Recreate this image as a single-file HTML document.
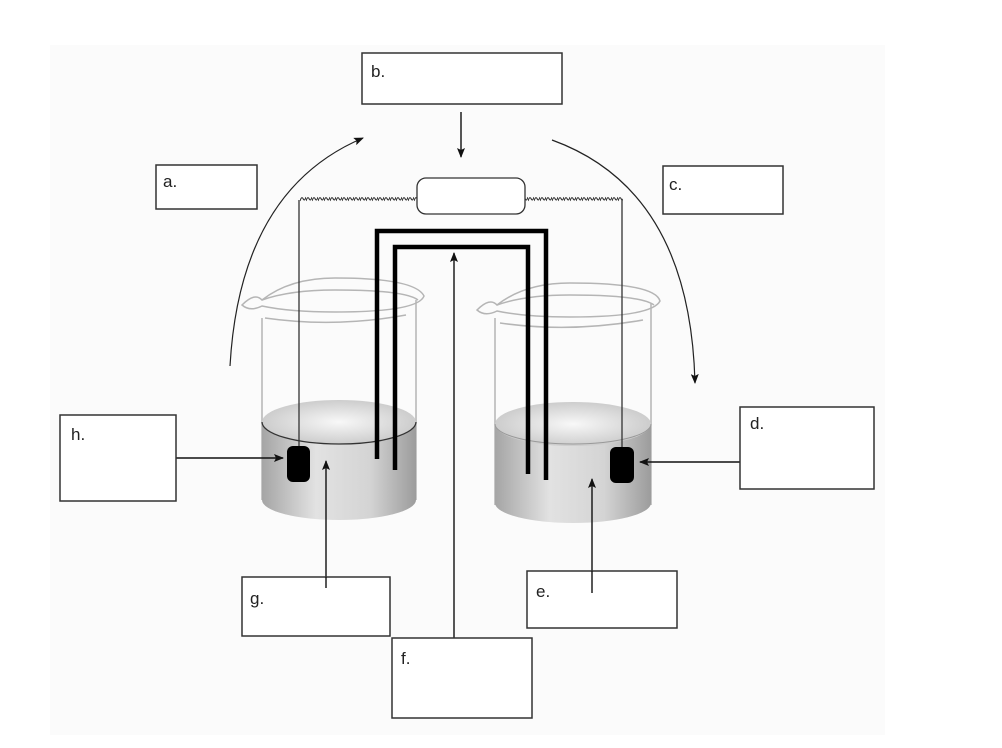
<!DOCTYPE html>
<html><head><style>
html,body{margin:0;padding:0;background:#fff;}
svg{display:block;}
text{font-family:"Liberation Sans",sans-serif;font-size:17px;fill:#222;}
</style></head><body>
<svg width="1002" height="748" viewBox="0 0 1002 748" xmlns="http://www.w3.org/2000/svg">
<defs>
<marker id="ah" markerWidth="10" markerHeight="8" refX="9" refY="4" orient="auto" markerUnits="userSpaceOnUse">
<path d="M0,0 L10,4 L0,8 L2,4 Z" fill="#111"/></marker>
<pattern id="zz" width="6" height="8" patternUnits="userSpaceOnUse" x="0" y="195">
<path d="M0,6 Q1.5,1 3,3.5 Q4.5,7 6,2" fill="none" stroke="#333" stroke-width="1.1"/></pattern>
<linearGradient id="liq" x1="0" x2="1" y1="0" y2="0">
<stop offset="0" stop-color="#a5a5a5"/><stop offset="0.35" stop-color="#e2e2e2"/><stop offset="0.7" stop-color="#d4d4d4"/><stop offset="1" stop-color="#9c9c9c"/></linearGradient>
<radialGradient id="top" cx="0.5" cy="0.5" r="0.6">
<stop offset="0" stop-color="#f8f8f8"/><stop offset="1" stop-color="#c4c4c4"/></radialGradient>
</defs>
<rect x="50" y="45" width="835" height="690" fill="#fbfbfb"/>

<!-- beakers -->
<g fill="none" stroke="#b5b5b5" stroke-width="1.5">
<path d="M262,318 L262,500 M416,300 L416,500"/>
<path d="M242,305 Q255,292 262,300 Q290,278 335,278 Q415,278 424,296 Q418,312 335,312 Q290,312 262,306 Q250,312 242,305 Z"/>
<path d="M262,300 Q290,290 335,290 Q405,290 418,300"/>
<path d="M265,318 Q335,328 406,315"/>
<path d="M495,318 L495,505 M651,303 L651,505"/>
<path d="M477,310 Q490,297 497,305 Q525,283 570,283 Q655,283 660,301 Q652,317 570,317 Q525,317 497,311 Q485,317 477,310 Z"/>
<path d="M497,305 Q525,295 570,295 Q640,295 654,305"/>
<path d="M500,323 Q570,333 643,320"/>
</g>
<!-- liquids -->
<path d="M262,422 L262,500 A77,20 0 0 0 416,500 L416,422 Z" fill="url(#liq)"/>
<ellipse cx="339" cy="422" rx="77" ry="22" fill="url(#top)"/>
<path d="M262,422 A77,22 0 0 0 416,422" fill="none" stroke="#333" stroke-width="1.3"/>
<path d="M495,425 L495,503 A78,20 0 0 0 651,503 L651,425 Z" fill="url(#liq)"/>
<ellipse cx="573" cy="424" rx="78" ry="22" fill="url(#top)"/>
<path d="M495,424 A78,20 0 0 0 651,424" fill="none" stroke="#999" stroke-width="1"/>

<!-- wires -->
<rect x="300" y="195" width="117" height="8" fill="url(#zz)"/>
<rect x="525" y="195" width="98" height="8" fill="url(#zz)"/>
<path d="M299,200 L299,450 M622,200 L622,448" stroke="#333" stroke-width="1.3" fill="none"/>
<rect x="417" y="178" width="108" height="36" rx="9" fill="#fff" stroke="#333" stroke-width="1.3"/>

<!-- salt bridge -->
<path d="M377,459 L377,231 L546,231 L546,480" fill="none" stroke="#000" stroke-width="4.5"/>
<path d="M395,470 L395,247 L528,247 L528,474" fill="none" stroke="#000" stroke-width="4.5"/>

<!-- electrodes -->
<rect x="287" y="446" width="23" height="36" rx="6" fill="#000"/>
<rect x="610" y="447" width="24" height="36" rx="6" fill="#000"/>

<!-- arcs -->
<path d="M230,366 Q240,190 363,138" fill="none" stroke="#222" stroke-width="1.2" marker-end="url(#ah)"/>
<path d="M552,140 Q690,190 695,383" fill="none" stroke="#222" stroke-width="1.2" marker-end="url(#ah)"/>

<!-- arrows -->
<g stroke="#111" stroke-width="1.4" fill="none" marker-end="url(#ah)">
<path d="M461,112 L461,157"/>
<path d="M454,638 L454,253"/>
<path d="M176,458 L283,458"/>
<path d="M740,462 L640,462"/>
<path d="M326,588 L326,461"/>
<path d="M592,593 L592,479"/>
</g>

<!-- boxes -->
<g fill="#fff" stroke="#333" stroke-width="1.5">
<rect x="362" y="53" width="200" height="51"/>
<rect x="156" y="165" width="101" height="44"/>
<rect x="663" y="166" width="120" height="48"/>
<rect x="60" y="415" width="116" height="86"/>
<rect x="740" y="407" width="134" height="82"/>
<rect x="242" y="577" width="148" height="59"/>
<rect x="527" y="571" width="150" height="57"/>
<rect x="392" y="638" width="140" height="80"/>
</g>
<path d="M326,577 L326,588 M592,571 L592,593" stroke="#111" stroke-width="1.4"/>
<text x="371" y="77">b.</text>
<text x="163" y="187">a.</text>
<text x="669" y="190">c.</text>
<text x="71" y="440">h.</text>
<text x="750" y="429">d.</text>
<text x="250" y="604">g.</text>
<text x="536" y="597">e.</text>
<text x="401" y="664">f.</text>
</svg>
</body></html>
